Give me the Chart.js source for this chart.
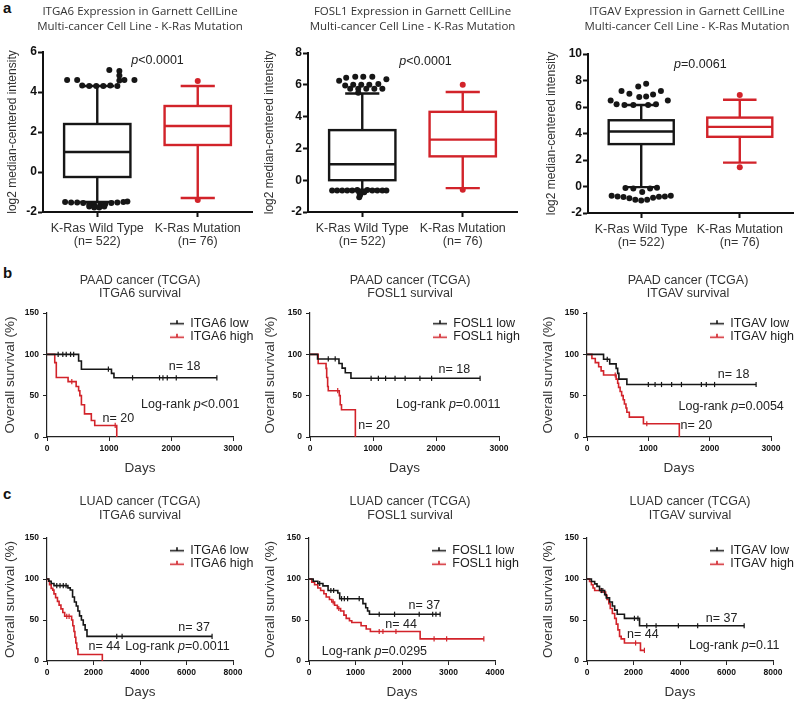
<!DOCTYPE html>
<html>
<head>
<meta charset="utf-8">
<title>ITGA6 / FOSL1 / ITGAV</title>
<script src="https://cdn.jsdelivr.net/npm/chart.js@4.4.1/dist/chart.umd.min.js"></script>
<style>
  html, body { margin: 0; padding: 0; background: #fff; }
  body { position: relative; width: 799px; height: 701px; overflow: hidden; }
  canvas { position: absolute; }
  .tag { position: absolute; left: 3px; font: bold 15px "Liberation Sans", Arial, sans-serif; color: #111; }
</style>
</head>
<body>
<div class="tag" style="top:-1px">a</div>
<div class="tag" style="top:264px">b</div>
<div class="tag" style="top:485px">c</div>

<canvas id="boxItga6"></canvas>
<canvas id="boxFosl1"></canvas>
<canvas id="boxItgav"></canvas>
<canvas id="paadItga6"></canvas>
<canvas id="paadFosl1"></canvas>
<canvas id="paadItgav"></canvas>
<canvas id="luadItga6"></canvas>
<canvas id="luadFosl1"></canvas>
<canvas id="luadItgav"></canvas>

<script>
Chart.defaults.font.family = '"Liberation Sans", Arial, Helvetica, sans-serif';
Chart.defaults.color = '#222';

const BLACK = '#161616';
const RED = '#d2232a';

// ---- a: expression box plots ----
const kRasGroups = ['K-Ras Wild Type', 'K-Ras Mutation'];
const kRasCounts = [522, 76];

// whisker low, Q1, median, Q3, whisker high
const itga6Stats = [[-1.5, -0.25, 1.0, 2.4, 4.3], [-1.3, 1.35, 2.3, 3.3, 4.3]];
const fosl1Stats = [[-0.6, 0.0, 1.0, 3.15, 5.45], [-0.5, 1.5, 2.55, 4.3, 5.55]];
const itgavStats = [[-0.05, 3.2, 4.15, 5.0, 6.15], [1.8, 3.75, 4.5, 5.2, 6.55]];

// outliers [x, y]
const itga6WtOut = [[0.70, 4.6], [0.80, 4.6], [0.85, 4.33], [0.92, 4.3], [0.99, 4.3], [1.06, 4.3], [1.13, 4.32],
  [1.20, 4.3], [1.12, 5.1], [1.22, 5.05], [1.22, 4.82], [1.22, 4.57], [1.27, 4.6], [1.37, 4.6],
  [0.68, -1.5], [0.74, -1.52], [0.80, -1.53], [0.86, -1.55], [0.92, -1.6], [0.97, -1.65], [1.03, -1.65],
  [1.08, -1.6], [1.14, -1.55], [1.20, -1.53], [1.26, -1.5], [1.30, -1.48], [0.92, -1.72], [0.97, -1.78],
  [1.02, -1.78], [1.07, -1.72]];
const itga6MutOut = [[2, 4.55], [2, -1.4]];

const fosl1WtOut = [[0.77, 6.25], [0.84, 6.45], [0.93, 6.5], [1.01, 6.5], [1.10, 6.5], [1.24, 6.35],
  [0.83, 5.95], [0.91, 6.0], [0.99, 6.0], [1.07, 6.0], [1.16, 6.05], [0.88, 5.75], [0.96, 5.75],
  [1.04, 5.75], [1.12, 5.75], [1.20, 5.75], [0.96, 5.5],
  [0.70, -0.65], [0.75, -0.65], [0.80, -0.65], [0.85, -0.65], [0.90, -0.65], [0.95, -0.62], [1.05, -0.62],
  [1.10, -0.65], [1.15, -0.65], [1.20, -0.65], [1.24, -0.65], [0.97, -0.78], [1.02, -0.75], [0.98, -0.92],
  [0.97, -1.08]];
const fosl1MutOut = [[2, 6.0], [2, -0.6]];

const itgavWtOut = [[0.80, 7.2], [0.88, 7.0], [0.97, 7.55], [1.05, 7.75], [1.12, 6.95], [1.20, 7.2],
  [0.69, 6.5], [0.75, 6.2], [0.83, 6.15], [0.92, 6.15], [1.07, 6.15], [1.15, 6.2], [1.27, 6.5],
  [0.98, 6.75], [1.05, 6.8],
  [0.84, -0.12], [0.92, -0.15], [1.09, -0.15], [1.16, -0.1], [1.01, -0.42], [0.70, -0.7], [0.76, -0.75],
  [0.82, -0.8], [0.88, -0.88], [0.94, -1.0], [1.00, -1.05], [1.06, -1.0], [1.12, -0.85], [1.18, -0.78],
  [1.24, -0.75], [1.30, -0.7]];
const itgavMutOut = [[2, 6.9], [2, 1.45]];

// ---- b: PAAD survival (days, % surviving, censored days) ----
const paadItga6LowT = [0, 510, 555, 1040, 1080, 2740];
const paadItga6LowS = [100, 92, 82, 77, 71.6, 71.6];
const paadItga6LowC = [180, 255, 310, 380, 430, 990, 1380, 1815, 1870, 1940, 2085, 2740];
const paadItga6HighT = [0, 125, 150, 340, 470, 510, 530, 555, 605, 715, 770, 1125];
const paadItga6HighS = [100, 90, 72, 67, 61, 56, 50, 39, 28, 20, 14, 0];
const paadItga6HighC = [400, 1100];

const paadFosl1LowT = [0, 120, 460, 510, 560, 650, 2700];
const paadFosl1LowS = [100, 94.4, 88.9, 83.3, 77.8, 71, 71];
const paadFosl1LowC = [290, 400, 970, 1085, 1200, 1350, 1510, 1745, 1930, 2700];
const paadFosl1HighT = [0, 130, 255, 265, 280, 290, 465, 480, 500, 720];
const paadFosl1HighS = [100, 89, 83, 72, 61, 56, 50, 39, 33, 0];
const paadFosl1HighC = [440];

const paadItgavLowT = [0, 270, 370, 475, 500, 520, 650, 2757];
const paadItgavLowS = [100, 94, 88.5, 83, 77, 70, 63.5, 63.5];
const paadItgavLowC = [330, 1000, 1110, 1215, 1380, 1540, 1865, 1945, 2080, 2757];
const paadItgavHighT = [0, 80, 135, 190, 230, 270, 475, 500, 515, 540, 565, 590, 610, 635, 650, 690, 920, 1505];
const paadItgavHighS = [100, 95, 90, 85, 80, 75, 70, 65, 60, 55, 50, 45, 40, 35, 30, 24, 16, 0];
const paadItgavHighC = [460, 975];

// ---- c: LUAD survival ----
const luadItga6LowT = [0, 80, 180, 300, 900, 1000, 1100, 1180, 1260, 1330, 1400, 1480, 1560, 1640, 1720, 7100];
const luadItga6LowS = [100, 97.3, 94.6, 91.9, 89.2, 86.5, 78, 72, 67, 61, 55, 50, 44, 38, 30, 30];
const luadItga6LowC = [420, 560, 700, 820, 3000, 3230, 7100];
const luadItga6HighT = [0, 60, 110, 180, 250, 300, 370, 450, 520, 600, 680, 760, 1060, 1110, 1160, 1200, 1240, 1280, 1330, 2380];
const luadItga6HighS = [100, 97.7, 93, 88.6, 86.4, 81.8, 77.3, 72.7, 68.2, 63.6, 59.1, 54.5, 50, 43, 36, 29, 22, 15, 8, 0];
const luadItga6HighC = [850, 950];

const luadFosl1LowT = [0, 90, 190, 300, 410, 620, 660, 1160, 1220, 1260, 1300, 2820];
const luadFosl1LowS = [100, 97.3, 94.5, 91.6, 86, 83, 76, 70, 65, 61, 57, 57];
const luadFosl1LowC = [230, 470, 530, 700, 760, 830, 1080, 1510, 1840, 2370, 2660, 2730, 2820];
const luadFosl1HighT = [0, 60, 120, 190, 250, 320, 370, 440, 490, 550, 610, 680, 750, 800, 870, 920, 1120, 1230, 1320, 2390, 3760];
const luadFosl1HighS = [100, 96, 93, 89, 86, 82, 78, 75, 72, 68, 64, 61, 56, 52, 49, 47, 43, 39, 36, 27, 27];
const luadFosl1HighC = [520, 640, 1510, 1590, 1870, 2690, 2960, 3760];

const luadItgavLowT = [0, 190, 330, 430, 540, 760, 830, 970, 1090, 1190, 1300, 1610, 2260, 6760];
const luadItgavLowS = [100, 97, 94, 91, 86, 81, 77, 72, 67, 62, 57, 52, 43, 43];
const luadItgavLowC = [620, 680, 2040, 2190, 2570, 2970, 3930, 4760, 6760];
const luadItgavHighT = [0, 110, 190, 260, 330, 720, 800, 860, 940, 1000, 1090, 1190, 1260, 1330, 1400, 1470, 1610, 2300, 2470];
const luadItgavHighS = [100, 97, 93, 89, 86, 84, 80, 75, 70, 64, 58, 52, 45, 38, 30, 27, 22, 13, 13];
const luadItgavHighC = [600, 2090, 2470];

// ---------- helpers ----------
function place(cv, x, y, w, h) {
  cv.width = w;
  cv.height = h;
  cv.style.left = x + 'px';
  cv.style.top = y + 'px';
}

// survival value in effect at day t
function survAt(T, S, t) {
  let s = S[0];
  T.forEach((d, i) => { if (d <= t) s = S[i]; });
  return s;
}

// legend key: line with a small censor tick
function keyImage(color) {
  const c = document.createElement('canvas');
  c.width = 14; c.height = 8;
  const g = c.getContext('2d');
  g.strokeStyle = color;
  g.lineWidth = 1.6;
  g.beginPath();
  g.moveTo(0, 4.5); g.lineTo(14, 4.5);
  g.moveTo(7, 1); g.lineTo(7, 4.5);
  g.stroke();
  return c;
}

// box, whiskers, caps and median through the chart scales
function boxPlot(stats, colors) {
  return {
    id: 'boxplot',
    beforeDatasetsDraw(chart) {
      const { ctx, scales: { x, y } } = chart;
      stats.forEach((s, i) => {
        const cx = x.getPixelForValue(i + 1);
        const hw = x.getPixelForValue(i + 1 + 0.33) - cx;
        const cw = x.getPixelForValue(i + 1 + 0.17) - cx;
        const [lo, q1, med, q3, hi] = s.map(v => y.getPixelForValue(v));
        ctx.save();
        ctx.strokeStyle = colors[i];
        ctx.lineWidth = 2.4;
        ctx.beginPath();
        ctx.moveTo(cx, hi); ctx.lineTo(cx, q3);
        ctx.moveTo(cx, q1); ctx.lineTo(cx, lo);
        ctx.moveTo(cx - cw, hi); ctx.lineTo(cx + cw, hi);
        ctx.moveTo(cx - cw, lo); ctx.lineTo(cx + cw, lo);
        ctx.moveTo(cx - hw, med); ctx.lineTo(cx + hw, med);
        ctx.stroke();
        ctx.strokeRect(cx - hw, q3, 2 * hw, q1 - q3);
        ctx.restore();
      });
    }
  };
}

// text notes at data coordinates; parts are [text, italic]
function notes(items, size) {
  return {
    id: 'notes',
    afterDatasetsDraw(chart) {
      const { ctx, scales: { x, y } } = chart;
      ctx.save();
      ctx.fillStyle = '#222';
      ctx.textBaseline = 'middle';
      ctx.textAlign = 'left';
      items.forEach(n => {
        const fonts = n.parts.map(p => (p[1] ? 'italic ' : '') + size + 'px "Liberation Sans", Arial, sans-serif');
        let w = 0;
        n.parts.forEach((p, i) => { ctx.font = fonts[i]; w += ctx.measureText(p[0]).width; });
        let px = x.getPixelForValue(n.x) - w / 2;
        const py = y.getPixelForValue(n.y);
        n.parts.forEach((p, i) => {
          ctx.font = fonts[i];
          ctx.fillText(p[0], px, py);
          px += ctx.measureText(p[0]).width;
        });
      });
      ctx.restore();
    }
  };
}

// shift title sideways, put the legend inside the plot
function nudge(dx, key) {
  return {
    id: 'nudge',
    afterLayout(chart) {
      const t = chart.titleBlock;
      if (t) { t.left += dx; t.right += dx; }
      const lg = chart.legend;
      if (key && lg) {
        const a = chart.chartArea;
        const w = lg.width, h = lg.height;
        lg.left = a.left + key[0]; lg.right = lg.left + w;
        lg.top = a.top + key[1]; lg.bottom = lg.top + h;
      }
    }
  };
}

const note = (x, y, text) => ({ x, y, parts: [[text, false]] });
const logRank = (x, y, val) => ({ x, y, parts: [['Log-rank ', false], ['p', true], [val, false]] });

// ---------- a ----------
function boxChart(id, p, gene, stats, wt, mut, yMin, yMax, pNote) {
  const cv = document.getElementById(id);
  place(cv, p.cx, 0, p.cw, 255);
  new Chart(cv, {
    type: 'scatter',
    data: {
      datasets: [
        { data: wt.map(([x, y]) => ({ x, y })), backgroundColor: BLACK, borderWidth: 0, pointRadius: 3 },
        { data: mut.map(([x, y]) => ({ x, y })), backgroundColor: RED, borderWidth: 0, pointRadius: 3 }
      ]
    },
    options: {
      responsive: false,
      animation: false,
      events: [],
      layout: { padding: { left: 0, top: 0, bottom: 0, right: p.cx + p.cw - p.R } },
      plugins: {
        legend: { display: false },
        tooltip: { enabled: false },
        title: {
          display: true, fullSize: false, color: '#333',
          text: [gene + ' Expression in Garnett CellLine', 'Multi-cancer Cell Line - K-Ras Mutation'],
          font: { family: '"Open Sans", sans-serif', size: 11.5, weight: 'normal', lineHeight: '15px' },
          padding: { top: 4.5, bottom: p.T - 4.5 - 30 }
        }
      },
      scales: {
        x: {
          type: 'linear', min: 0.46, max: 2.54,
          afterBuildTicks: s => { s.ticks = [{ value: 1 }, { value: 2 }]; },
          ticks: {
            autoSkip: false, maxRotation: 0, minRotation: 0, padding: 5.5, color: '#333',
            font: { size: 12.5, lineHeight: '13px' },
            callback: v => [kRasGroups[v - 1], '(n= ' + kRasCounts[v - 1] + ')']
          },
          grid: { drawOnChartArea: false, tickLength: 5, tickWidth: 2, color: '#111' },
          border: { color: '#111', width: 2 },
          afterFit: s => { s.height = 255 - p.B; }
        },
        y: {
          min: yMin, max: yMax,
          ticks: { stepSize: 2, padding: 1, color: '#111', font: { size: 12, weight: 'bold' } },
          grid: { drawOnChartArea: false, tickLength: 5, tickWidth: 2, color: '#111' },
          border: { color: '#111', width: 2 },
          title: { display: true, text: 'log2 median-centered intensity', color: '#333', font: { size: 12 }, padding: { top: p.yPad, bottom: 0 } },
          afterFit: s => { s.width = p.L - p.cx; }
        }
      }
    },
    plugins: [boxPlot(stats, [BLACK, RED]), notes([pNote], 12.5), nudge(p.tdx)]
  });
}

// ---------- b, c ----------
const rowB = { cy: 265, ch: 215, T: 313, B: 437, tp: 9.5, lh: 13, daysPad: 4, keyY: 3 };
const rowC = { cy: 485, ch: 216, T: 538, B: 661, tp: 10, lh: 14, daysPad: 1, keyY: 5 };

function kmChart(id, p, row, title, names, low, high, xMax, xStep, noteList) {
  const cv = document.getElementById(id);
  place(cv, p.cx, row.cy, p.cw, row.ch);
  const keys = [keyImage(BLACK), keyImage(RED)];
  const curve = (label, c, color) => ({
    label, data: c[0].map((t, i) => ({ x: t, y: c[1][i] })),
    showLine: true, stepped: true, borderColor: color, backgroundColor: color,
    borderWidth: 1.6, pointRadius: 0
  });
  const censor = (c, color) => ({
    data: c[2].map(t => ({ x: t, y: survAt(c[0], c[1], t) })),
    pointStyle: 'line', rotation: 90, pointRadius: 2.6, borderColor: color, borderWidth: 1.2
  });
  new Chart(cv, {
    type: 'scatter',
    data: { datasets: [curve(names[0], low, BLACK), curve(names[1], high, RED), censor(low, BLACK), censor(high, RED)] },
    options: {
      responsive: false,
      animation: false,
      events: [],
      layout: { padding: { left: 0, top: 0, bottom: 0, right: p.cx + p.cw - p.R } },
      plugins: {
        tooltip: { enabled: false },
        title: {
          display: true, fullSize: false, color: '#333', text: title,
          font: { size: 12.5, weight: 'normal', lineHeight: row.lh + 'px' },
          padding: { top: row.tp, bottom: row.T - row.cy - row.tp - 2 * row.lh }
        },
        legend: {
          display: true, position: 'chartArea', align: 'start',
          labels: {
            usePointStyle: true, pointStyleWidth: 14, boxHeight: 8, padding: 1,
            color: '#222', font: { size: 12.5 },
            generateLabels: ch => ch.data.datasets.slice(0, 2).map((d, i) => ({
              text: d.label, pointStyle: keys[i], fillStyle: d.borderColor, strokeStyle: d.borderColor,
              lineWidth: 0, hidden: false, datasetIndex: i, fontColor: '#222'
            }))
          }
        }
      },
      scales: {
        x: {
          min: 0, max: xMax,
          ticks: { stepSize: xStep, maxRotation: 0, padding: 3, color: '#111', font: { size: 8.5, weight: 'bold' }, callback: v => String(v) },
          grid: { drawOnChartArea: false, tickLength: 4, color: '#222' },
          border: { color: '#222', width: 1.2 },
          title: { display: true, text: 'Days', color: '#333', font: { size: 13.5 }, padding: { top: 0, bottom: row.daysPad } },
          afterFit: s => { s.height = row.cy + row.ch - row.B; }
        },
        y: {
          min: 0, max: 150,
          ticks: { stepSize: 50, padding: 4, color: '#111', font: { size: 8.5, weight: 'bold' } },
          grid: { drawOnChartArea: false, tickLength: 4, color: '#222' },
          border: { color: '#222', width: 1.2 },
          title: { display: true, text: 'Overall survival (%)', color: '#333', font: { size: 13.5 }, padding: { top: p.yPad, bottom: 0 } },
          afterFit: s => { s.width = p.L - p.cx; }
        }
      }
    },
    plugins: [notes(noteList, 12.5), nudge(p.tdx, [122, row.keyY])]
  });
}

boxChart('boxItga6', { cx: 0, cw: 270, L: 43, R: 252, T: 52, B: 212, yPad: 5, tdx: -7.5 },
  'ITGA6', itga6Stats, itga6WtOut, itga6MutOut, -2, 6,
  { x: 1.6, y: 5.55, parts: [['p', true], ['<0.0001', false]] });
boxChart('boxFosl1', { cx: 262, cw: 270, L: 308, R: 517, T: 53, B: 212, yPad: 0, tdx: 0 },
  'FOSL1', fosl1Stats, fosl1WtOut, fosl1MutOut, -2, 8,
  { x: 1.63, y: 7.45, parts: [['p', true], ['<0.0001', false]] });
boxChart('boxItgav', { cx: 538, cw: 261, L: 588, R: 793, T: 54, B: 213, yPad: 6, tdx: -3.5 },
  'ITGAV', itgavStats, itgavWtOut, itgavMutOut, -2, 10,
  { x: 1.6, y: 9.2, parts: [['p', true], ['=0.0061', false]] });

kmChart('paadItga6', { cx: 0, cw: 262, L: 47, R: 233, yPad: 2, tdx: 0 }, rowB,
  ['PAAD cancer (TCGA)', 'ITGA6 survival'], ['ITGA6 low', 'ITGA6 high'],
  [paadItga6LowT, paadItga6LowS, paadItga6LowC], [paadItga6HighT, paadItga6HighS, paadItga6HighC], 3000, 1000,
  [note(2220, 85, 'n= 18'), note(1150, 22, 'n= 20'), logRank(2310, 39, '<0.001')]);
kmChart('paadFosl1', { cx: 262, cw: 268, L: 310, R: 499, yPad: 0, tdx: 5.5 }, rowB,
  ['PAAD cancer (TCGA)', 'FOSL1 survival'], ['FOSL1 low', 'FOSL1 high'],
  [paadFosl1LowT, paadFosl1LowS, paadFosl1LowC], [paadFosl1HighT, paadFosl1HighS, paadFosl1HighC], 3000, 1000,
  [note(2290, 82, 'n= 18'), note(1018, 14, 'n= 20'), logRank(2195, 39, '=0.0011')]);
kmChart('paadItgav', { cx: 535, cw: 264, L: 587, R: 771, yPad: 5, tdx: 9 }, rowB,
  ['PAAD cancer (TCGA)', 'ITGAV survival'], ['ITGAV low', 'ITGAV high'],
  [paadItgavLowT, paadItgavLowS, paadItgavLowC], [paadItgavHighT, paadItgavHighS, paadItgavHighC], 3000, 1000,
  [note(2390, 75, 'n= 18'), note(1784, 14, 'n= 20'), logRank(2350, 37, '=0.0054')]);

kmChart('luadItga6', { cx: 0, cw: 262, L: 47, R: 233, yPad: 2, tdx: 0 }, rowC,
  ['LUAD cancer (TCGA)', 'ITGA6 survival'], ['ITGA6 low', 'ITGA6 high'],
  [luadItga6LowT, luadItga6LowS, luadItga6LowC], [luadItga6HighT, luadItga6HighS, luadItga6HighC], 8000, 2000,
  [note(6330, 41, 'n= 37'), note(2470, 18, 'n= 44'), logRank(5610, 18, '=0.0011')]);
kmChart('luadFosl1', { cx: 262, cw: 268, L: 309, R: 495, yPad: 0, tdx: 8 }, rowC,
  ['LUAD cancer (TCGA)', 'FOSL1 survival'], ['FOSL1 low', 'FOSL1 high'],
  [luadFosl1LowT, luadFosl1LowS, luadFosl1LowC], [luadFosl1HighT, luadFosl1HighS, luadFosl1HighC], 4000, 1000,
  [note(2480, 68, 'n= 37'), note(1980, 44, 'n= 44'), logRank(1407, 11, '=0.0295')]);
kmChart('luadItgav', { cx: 535, cw: 264, L: 587, R: 773, yPad: 5, tdx: 10 }, rowC,
  ['LUAD cancer (TCGA)', 'ITGAV survival'], ['ITGAV low', 'ITGAV high'],
  [luadItgavLowT, luadItgavLowS, luadItgavLowC], [luadItgavHighT, luadItgavHighS, luadItgavHighC], 8000, 2000,
  [note(5786, 52, 'n= 37'), note(2400, 32, 'n= 44'), logRank(6330, 19, '=0.11')]);
</script>
</body>
</html>
